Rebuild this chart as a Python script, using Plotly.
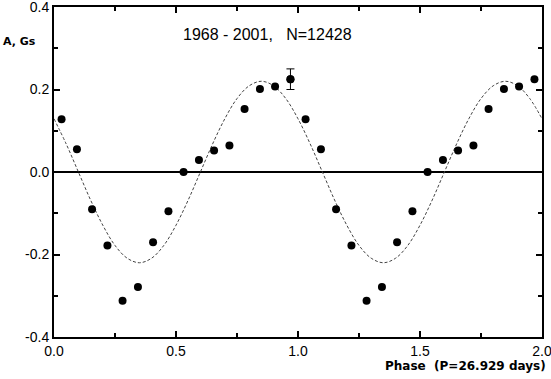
import plotly.graph_objects as go

# Phase-folded mean field values (one cycle, repeated for phase + 1)
PHASE = [0.031, 0.094, 0.156, 0.219, 0.281, 0.344, 0.406, 0.469,
         0.531, 0.594, 0.656, 0.719, 0.781, 0.844, 0.906, 0.969]
FIELD = [0.128, 0.055, -0.090, -0.178, -0.312, -0.279, -0.170, -0.095,
         0.000, 0.029, 0.052, 0.064, 0.153, 0.201, 0.207, 0.225]

# Single error bar shown on the last point of the first cycle
ERR_PHASE = [0.969]
ERR_FIELD = [0.225]
ERR_SIZE = [0.025]

FIT_PHASE = [0.00, 0.05, 0.10, 0.15, 0.20, 0.25, 0.30, 0.35, 0.40, 0.45, 0.50,
             0.55, 0.60, 0.65, 0.70, 0.75, 0.80, 0.85, 0.90, 0.95, 1.00]
FIT_FIELD = [0.129, 0.068, 0.000, -0.068, -0.129, -0.178, -0.209, -0.220,
             -0.209, -0.178, -0.129, -0.068, 0.000, 0.068, 0.129, 0.178,
             0.209, 0.220, 0.209, 0.178, 0.129]

X_TICKS = [0.0, 0.5, 1.0, 1.5, 2.0]
Y_TICKS = [-0.4, -0.2, 0.0, 0.2, 0.4]

FONT = "Liberation Sans"
FONT_BOLD = "DejaVu Sans"

# two cycles
px = PHASE + [p + 1 for p in PHASE]
py = FIELD + FIELD
fx = FIT_PHASE + [p + 1 for p in FIT_PHASE[1:]]
fy = FIT_FIELD + FIT_FIELD[1:]

fig = go.Figure()

fig.add_trace(go.Scatter(
    x=fx, y=fy, mode="lines", line_shape="spline",
    line=dict(color="#444444", width=1, dash="3px,2px"),
    hoverinfo="skip"
))

fig.add_trace(go.Scatter(
    x=px, y=py, mode="markers",
    marker=dict(color="black", size=8)
))

fig.add_trace(go.Scatter(
    x=ERR_PHASE, y=ERR_FIELD, mode="markers",
    marker=dict(color="black", size=8),
    error_y=dict(type="data", array=ERR_SIZE, color="black", thickness=1, width=4)
))

axis_common = dict(
    showline=True, linecolor="black", linewidth=2, mirror="ticks",
    ticks="inside", ticklen=6, tickwidth=1.5, tickcolor="black",
    showgrid=False, zeroline=False, automargin=False,
    ticklabeloverflow="allow",
    tickfont=dict(family=FONT, size=14, color="black"),
)

fig.update_layout(
    width=551, height=379,
    margin=dict(l=54, r=9, t=7, b=42),
    paper_bgcolor="white", plot_bgcolor="white",
    showlegend=False,
    xaxis=dict(
        **axis_common, range=[0, 2], tickvals=X_TICKS,
        ticktext=[f"{v:.1f}" for v in X_TICKS],
        minor=dict(ticks="inside", ticklen=4, dtick=0.25, tickcolor="black", tickwidth=1.5),
    ),
    yaxis=dict(
        **axis_common, range=[-0.4, 0.4], tickvals=Y_TICKS,
        ticktext=[f"{v:.1f}" for v in Y_TICKS],
        minor=dict(ticks="inside", ticklen=4, dtick=0.1, tickcolor="black", tickwidth=1.5),
    ),
)

# horizontal zero line
fig.add_hline(y=0, line=dict(color="black", width=2), layer="below")

fig.add_annotation(
    text="1968 - 2001,   N=12428", xref="paper", yref="paper",
    x=0.4375, y=0.918, xanchor="center", yanchor="middle", showarrow=False,
    font=dict(family=FONT, size=16, color="black")
)
fig.add_annotation(
    text="<b>A, Gs</b>", xref="paper", yref="paper",
    x=-0.109, y=0.894, xanchor="left", yanchor="middle", showarrow=False,
    font=dict(family=FONT_BOLD, size=11, color="black")
)
fig.add_annotation(
    text="<b>Phase  (P=26.929 days)</b>", xref="paper", yref="paper",
    x=1.012, y=-0.089, xanchor="right", yanchor="middle", showarrow=False,
    font=dict(family=FONT_BOLD, size=12, color="black")
)

# drop the default page margin so the figure sits at the window's corner
fig.write_html("out.html", config={"displayModeBar": False},
               post_script="document.body.style.margin='0';")
